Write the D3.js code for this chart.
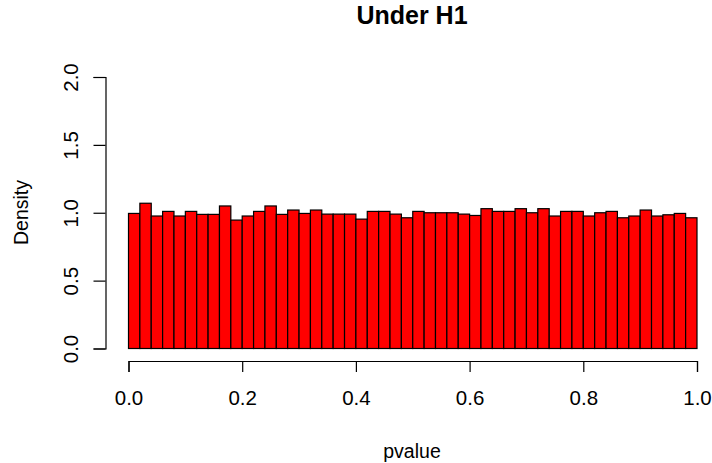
<!doctype html>
<html lang="en">
<head>
  <meta charset="utf-8">
  <title>Under H1</title>
  <script src="https://d3js.org/d3.v7.min.js"></script>
  <style>
    body { margin: 0; background: #fff; }
    text { font-family: "Liberation Sans", Arial, sans-serif; fill: #000; }
  </style>
</head>
<body>
<div id="chart"></div>
<script>
// histogram of p-values, 50 bins of width 0.02 (densities)
var binStart = d3.range(0, 50).map(function(i){ return i * 0.02; });
var density = [0.995, 1.07, 0.976, 1.01, 0.976, 1.01, 0.988, 0.988, 1.05, 0.946,
               0.976, 1.01, 1.05, 0.988, 1.02, 0.995, 1.02, 0.99, 0.99, 0.99,
               0.953, 1.01, 1.01, 0.99, 0.963, 1.01, 1.0, 1.0, 1.0, 0.99,
               0.98, 1.03, 1.01, 1.01, 1.03, 1.0, 1.03, 0.976, 1.01, 1.01,
               0.976, 1.0, 1.01, 0.963, 0.976, 1.02, 0.976, 0.985, 0.995, 0.963];
var binWidth = 0.02;
var xTicks = [0, 0.2, 0.4, 0.6, 0.8, 1.0];
var yTicks = [0, 0.5, 1.0, 1.5, 2.0];

var width = 712, height = 463;

var svg = d3.select("#chart").append("svg")
  .attr("width", width)
  .attr("height", height);

var x = d3.scaleLinear().domain([0, 1]).range([128.5, 697]);
var y = d3.scaleLinear().domain([0, 2]).range([348.5, 77]);

// bars
svg.append("g").selectAll("rect")
  .data(density)
  .enter().append("rect")
  .attr("x", function(d, i){ return x(binStart[i]); })
  .attr("y", function(d){ return y(d); })
  .attr("width", function(d, i){ return x(binStart[i] + binWidth) - x(binStart[i]); })
  .attr("height", function(d){ return y(0) - y(d); })
  .attr("fill", "#ff0000")
  .attr("stroke", "#000")
  .attr("stroke-width", 1.2);

// x axis (R style, below the plot)
var xAxis = svg.append("g")
  .attr("transform", "translate(0,361)")
  .call(d3.axisBottom(x).tickValues(xTicks).tickSizeOuter(0).tickSize(11).tickPadding(0)
    .tickFormat(d3.format(".1f")));
xAxis.selectAll("path, line").attr("stroke", "#000").attr("stroke-width", 1.2);
xAxis.selectAll("text")
  .attr("dy", null)
  .attr("y", 44)
  .style("font-size", "20.5px")
  .style("font-family", "'Liberation Sans', Arial, sans-serif");

// y axis
var yAxis = svg.append("g")
  .attr("transform", "translate(105.5,0)")
  .call(d3.axisLeft(y).tickValues(yTicks).tickSizeOuter(0).tickSize(12).tickPadding(0)
    .tickFormat(d3.format(".1f")));
yAxis.selectAll("path, line").attr("stroke", "#000").attr("stroke-width", 1.2);
yAxis.selectAll("text")
  .attr("x", null).attr("dy", null)
  .attr("text-anchor", "middle")
  .attr("transform", "translate(-28,0) rotate(-90)")
  .style("font-size", "20.5px")
  .style("font-family", "'Liberation Sans', Arial, sans-serif");

// title and axis labels
svg.append("text")
  .attr("x", 412).attr("y", 24)
  .attr("text-anchor", "middle")
  .style("font-size", "25px")
  .style("font-weight", "bold")
  .text("Under H1");

svg.append("text")
  .attr("x", 412).attr("y", 458)
  .attr("text-anchor", "middle")
  .style("font-size", "19.5px")
  .text("pvalue");

svg.append("text")
  .attr("transform", "translate(28,212.5) rotate(-90)")
  .attr("text-anchor", "middle")
  .style("font-size", "19.5px")
  .text("Density");
</script>
</body>
</html>
